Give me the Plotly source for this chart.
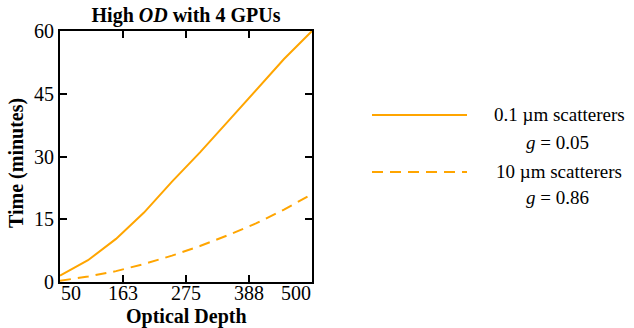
import plotly.graph_objects as go

optical_depth = [50, 100, 150, 200, 250, 300, 350, 400, 450, 500]
time_small = [1.5, 5.2, 10.3, 16.6, 24.0, 31.0, 38.4, 45.8, 53.3, 60.0]
time_large = [0.3, 1.3, 2.6, 4.3, 6.3, 8.6, 11.2, 14.0, 17.3, 21.0]

x_ticks = [50, 163, 275, 388, 500]
y_ticks = [0, 15, 30, 45, 60]

series_names = ["0.1 µm scatterers", "10 µm scatterers"]
series_g = ["0.05", "0.86"]

ORANGE = "#FFA500"
FONT = "Liberation Serif"
DASH = "11px,7px"

# plot area in page pixels
PL, PR, PT, PB = 60, 312, 31, 282
W, H = 634, 328
PW, PH = PR - PL, PB - PT


def px(x):
    return (x - PL) / PW


def py(y):
    return (PB - y) / PH


fig = go.Figure()
fig.add_trace(go.Scatter(x=optical_depth, y=time_small, mode="lines",
                         line=dict(color=ORANGE, width=2), showlegend=False))
fig.add_trace(go.Scatter(x=optical_depth, y=time_large, mode="lines",
                         line=dict(color=ORANGE, width=2, dash=DASH), showlegend=False))

axis_common = dict(showline=True, linecolor="black", linewidth=2, mirror="ticks",
                   ticks="inside", ticklen=7, tickwidth=2, tickcolor="black",
                   showgrid=False, zeroline=False,
                   tickfont=dict(family=FONT, size=20, color="black"))

fig.update_xaxes(range=[50, 500], tickvals=x_ticks, showticklabels=False, **axis_common)
fig.update_yaxes(range=[0, 60], tickvals=y_ticks, **axis_common)

# x tick labels (edge labels shifted inward as in the reference)
for i, t in enumerate(x_ticks):
    anchor = "left" if i == 0 else ("right" if i == len(x_ticks) - 1 else "center")
    shift = -1 if i == 0 else (1 if i == len(x_ticks) - 1 else 0)
    fig.add_annotation(x=t, y=0, xref="x", yref="paper", yanchor="top",
                       xanchor=anchor, text=str(t), showarrow=False, yshift=2,
                       xshift=shift, font=dict(family=FONT, size=20, color="black"))

# axis titles
fig.add_annotation(xref="paper", yref="paper", x=px(186), y=py(317),
                   text="<b>Optical Depth</b>", showarrow=False,
                   xanchor="center", yanchor="middle",
                   font=dict(family=FONT, size=20, color="black"))
fig.add_annotation(xref="paper", yref="paper", x=px(16), y=py(163),
                   text="<b>Time (minutes)</b>", showarrow=False, textangle=-90,
                   xanchor="center", yanchor="middle",
                   font=dict(family=FONT, size=20, color="black"))

# custom legend
legend_rows = [(115, 142, "solid"), (172, 197, DASH)]
for (ly, gy, dash), name, g in zip(legend_rows, series_names, series_g):
    fig.add_shape(type="line", xref="paper", yref="paper",
                  x0=px(372), x1=px(467), y0=py(ly), y1=py(ly),
                  line=dict(color=ORANGE, width=2, dash=dash))
    fig.add_annotation(xref="paper", yref="paper", x=px(559), y=py(ly - 1),
                       text=name, showarrow=False, xanchor="center", yanchor="middle",
                       font=dict(family=FONT, size=19, color="black"))
    fig.add_annotation(xref="paper", yref="paper", x=px(557), y=py(gy),
                       text=f"<i>g</i> = {g}", showarrow=False, xanchor="center", yanchor="middle",
                       font=dict(family=FONT, size=19, color="black"))

fig.update_layout(
    width=W, height=H,
    margin=dict(l=PL, r=W - PR, t=PT, b=H - PB),
    paper_bgcolor="white", plot_bgcolor="white",
    title=dict(text="<b>High <i>OD</i> with 4 GPUs</b>", x=186 / W, xanchor="center",
               y=1 - 15 / H, yanchor="middle",
               font=dict(family=FONT, size=20, color="black")),
    showlegend=False,
)

fig.write_html("out.html", config={"displayModeBar": False},
               post_script="document.body.style.margin='0';document.body.style.overflow='hidden';")
